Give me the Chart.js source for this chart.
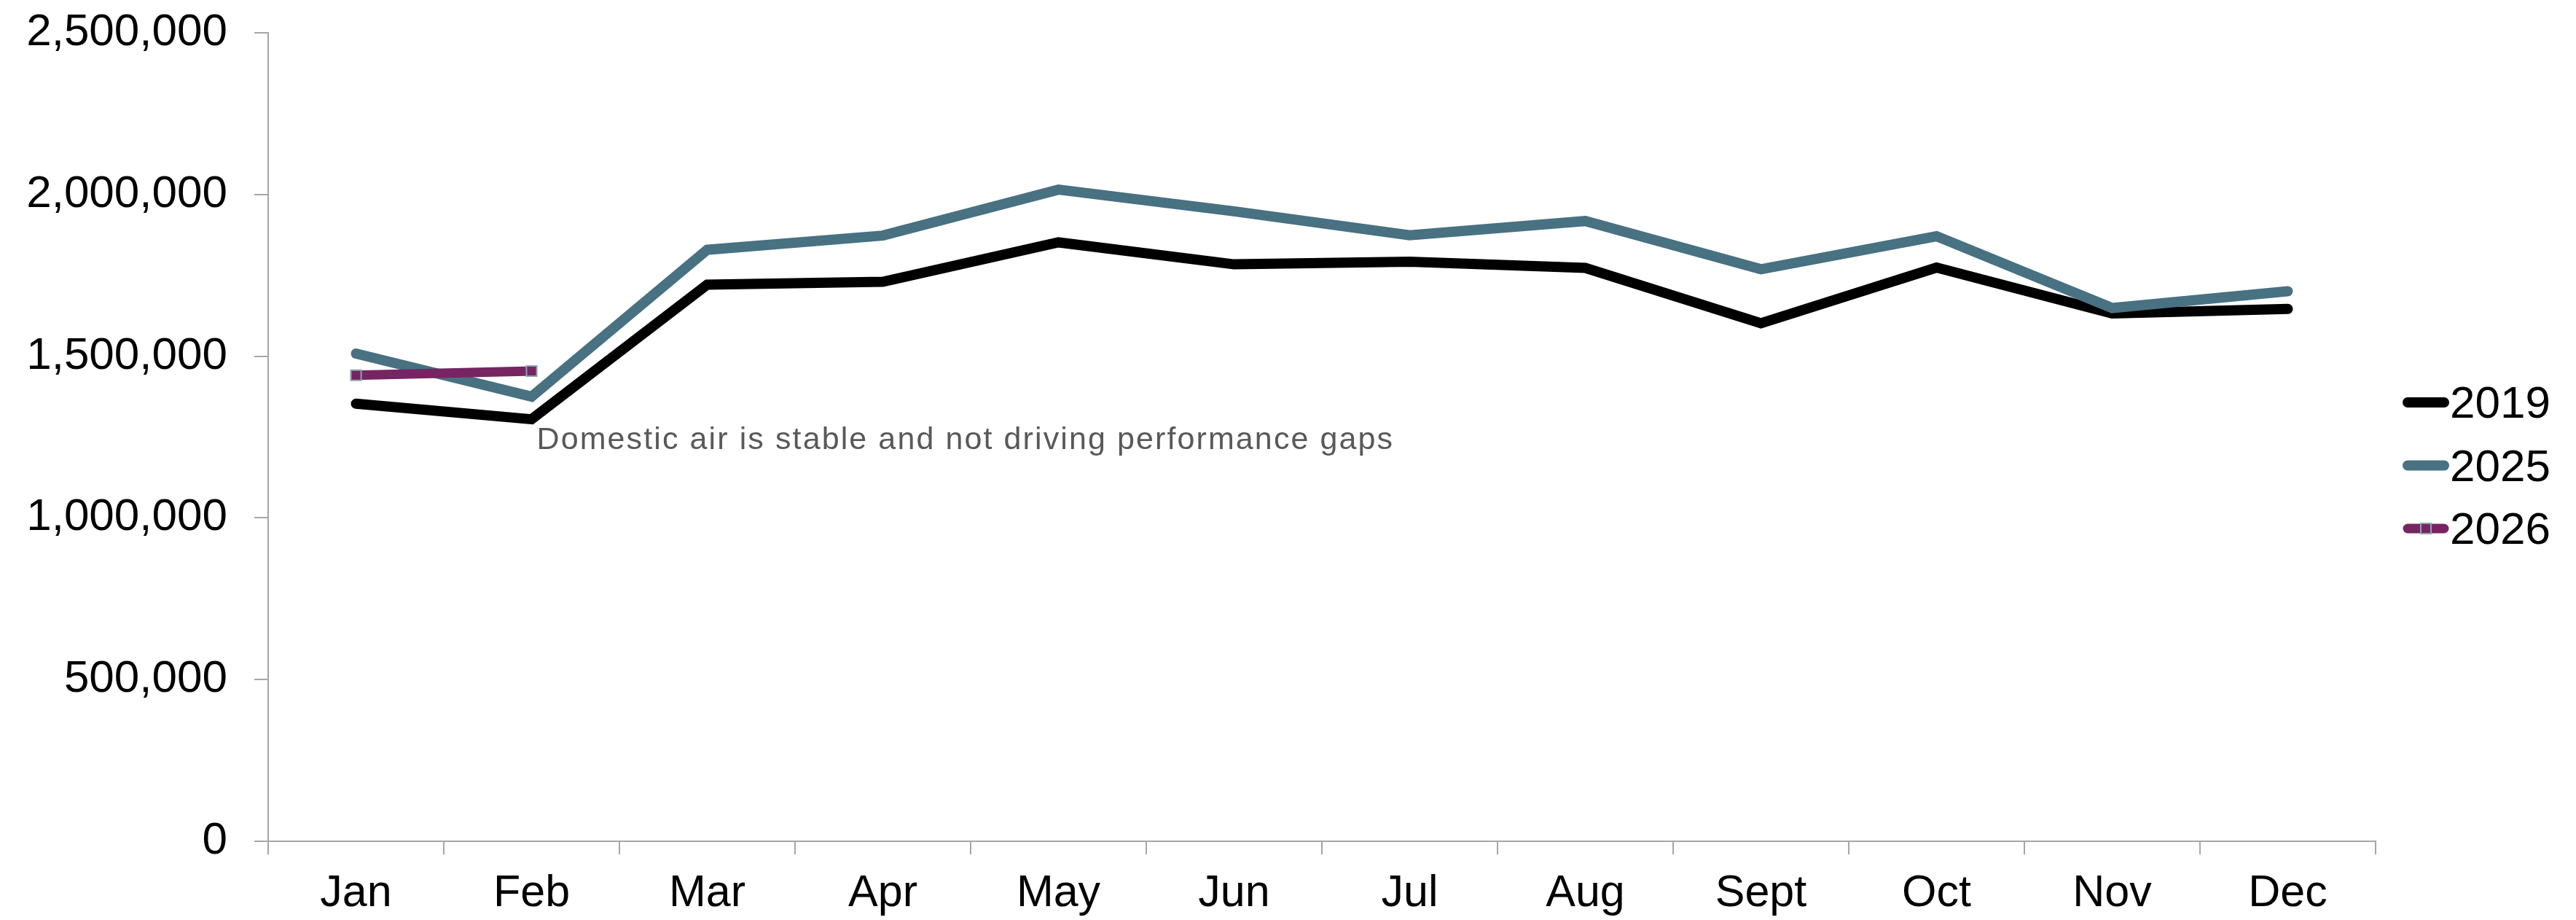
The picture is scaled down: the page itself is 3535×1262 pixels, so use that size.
<!DOCTYPE html>
<html>
<head>
<meta charset="utf-8">
<script src="https://cdn.jsdelivr.net/npm/chart.js@4.4.1/dist/chart.umd.min.js"></script>
<style>
    html, body { margin: 0; padding: 0; background: #ffffff; }
    canvas { display: block; }
</style>
</head>
<body>
<canvas id="graficoAereo" width="3535" height="1262"></canvas>
<script>
const meses = ['Jan', 'Feb', 'Mar', 'Apr', 'May', 'Jun', 'Jul', 'Aug', 'Sept', 'Oct', 'Nov', 'Dec'];
const anios = ['2019', '2025', '2026'];
const valores2019 = [1353000, 1305000, 1721000, 1730000, 1852000, 1784000, 1792000, 1773000, 1602000, 1774000, 1632000, 1646000];
const valores2025 = [1508000, 1375000, 1829000, 1873000, 2015000, 1948000, 1874000, 1918000, 1769000, 1871000, 1649000, 1701000];
const valores2026 = [1441000, 1454000];
const marcasEjeY = [0, 500000, 1000000, 1500000, 2000000, 2500000];
const textoNota = 'Domestic air is stable and not driving performance gaps';
const mesNota = 'Feb';
const valorNota = 1213000;

const FUENTE = '"Liberation Sans", Arial, sans-serif';
const GRIS_EJE = '#a6a6a6';

/**
 * Dibuja la nota de texto anclada a un mes y un valor del eje.
 */
const pluginNota = {
    id: 'nota',
    afterDatasetsDraw(chart) {
        const ctx = chart.ctx;
        const x = chart.scales.x.getPixelForValue(meses.indexOf(mesNota)) + 7;
        const y = chart.scales.y.getPixelForValue(valorNota);
        ctx.save();
        ctx.font = '43px ' + FUENTE;
        ctx.letterSpacing = '2.1px';
        ctx.fillStyle = '#595959';
        ctx.textAlign = 'left';
        ctx.textBaseline = 'alphabetic';
        ctx.fillText(textoNota, x, y);
        ctx.restore();
    }
};

/**
 * Leyenda a la derecha: muestra de línea y año, una fila por serie.
 */
const pluginLeyenda = {
    id: 'leyendaLineas',
    afterDraw(chart) {
        const ctx = chart.ctx;
        const x0 = chart.chartArea.right + 44;
        const x1 = chart.chartArea.right + 94;
        const xTexto = chart.chartArea.right + 102;
        ctx.save();
        chart.data.datasets.forEach((ds, i) => {
            const y = 552 + i * 86.5;
            ctx.beginPath();
            ctx.lineCap = 'round';
            ctx.lineWidth = ds.borderWidth;
            ctx.strokeStyle = ds.borderColor;
            ctx.moveTo(x0, y);
            ctx.lineTo(x1, y);
            ctx.stroke();
            if (ds.pointRadius > 0) {
                const lado = 14;
                ctx.fillStyle = ds.pointBackgroundColor;
                ctx.strokeStyle = ds.pointBorderColor;
                ctx.lineWidth = ds.pointBorderWidth;
                ctx.fillRect((x0 + x1) / 2 - lado / 2, y - lado / 2, lado, lado);
                ctx.strokeRect((x0 + x1) / 2 - lado / 2, y - lado / 2, lado, lado);
            }
            ctx.font = '62px ' + FUENTE;
            ctx.fillStyle = '#000000';
            ctx.textAlign = 'left';
            ctx.textBaseline = 'alphabetic';
            ctx.fillText(ds.label, xTexto, y + 21);
        });
        ctx.restore();
    }
};

/**
 * Crea una serie de línea con el estilo común.
 */
function crearSerie(etiqueta, datos, color, grosor, orden) {
    return {
        label: etiqueta,
        data: datos,
        borderColor: color,
        backgroundColor: color,
        borderWidth: grosor,
        borderCapStyle: 'round',
        borderJoinStyle: 'miter',
        tension: 0,
        pointRadius: 0,
        pointHoverRadius: 0,
        order: orden,
        fill: false
    };
}

const serie2026 = crearSerie(anios[2], valores2026, '#772462', 13, 1);
serie2026.borderCapStyle = 'butt';
serie2026.pointRadius = 10;
serie2026.pointStyle = 'rect';
serie2026.pointBackgroundColor = '#772462';
serie2026.pointBorderColor = '#8ea3b0';
serie2026.pointBorderWidth = 2;

new Chart(document.getElementById('graficoAereo'), {
    type: 'line',
    data: {
        labels: meses,
        datasets: [
            crearSerie(anios[0], valores2019, '#000000', 14, 3),
            crearSerie(anios[1], valores2025, '#487182', 14, 2),
            serie2026
        ]
    },
    options: {
        responsive: false,
        animation: false,
        devicePixelRatio: 1,
        layout: { padding: { top: 45, right: 275, bottom: 0, left: 0 } },
        plugins: {
            legend: { display: false },
            tooltip: { enabled: false }
        },
        scales: {
            x: {
                offset: true,
                afterFit(escala) { escala.height = 108; },
                grid: {
                    offset: true,
                    drawOnChartArea: false,
                    drawTicks: true,
                    tickLength: 18,
                    color: GRIS_EJE,
                    lineWidth: 2
                },
                border: { display: true, color: GRIS_EJE, width: 2 },
                ticks: {
                    color: '#000000',
                    font: { family: FUENTE, size: 61 },
                    padding: 18,
                    maxRotation: 0,
                    autoSkip: false
                }
            },
            y: {
                min: marcasEjeY[0],
                max: marcasEjeY[marcasEjeY.length - 1],
                afterFit(escala) {
                    escala.width = 368;
                    // el margen lo marca layout.padding, no las etiquetas
                    escala.paddingTop = 0;
                    escala.paddingBottom = 0;
                },
                afterBuildTicks(escala) { escala.ticks = marcasEjeY.map(v => ({ value: v })); },
                grid: {
                    drawOnChartArea: false,
                    drawTicks: true,
                    tickLength: 19,
                    color: GRIS_EJE,
                    lineWidth: 2
                },
                border: { display: true, color: GRIS_EJE, width: 2 },
                ticks: {
                    color: '#000000',
                    font: { family: FUENTE, size: 62 },
                    padding: 37,
                    callback: v => v.toLocaleString('en-US')
                }
            }
        }
    },
    plugins: [pluginNota, pluginLeyenda]
});
</script>
</body>
</html>
